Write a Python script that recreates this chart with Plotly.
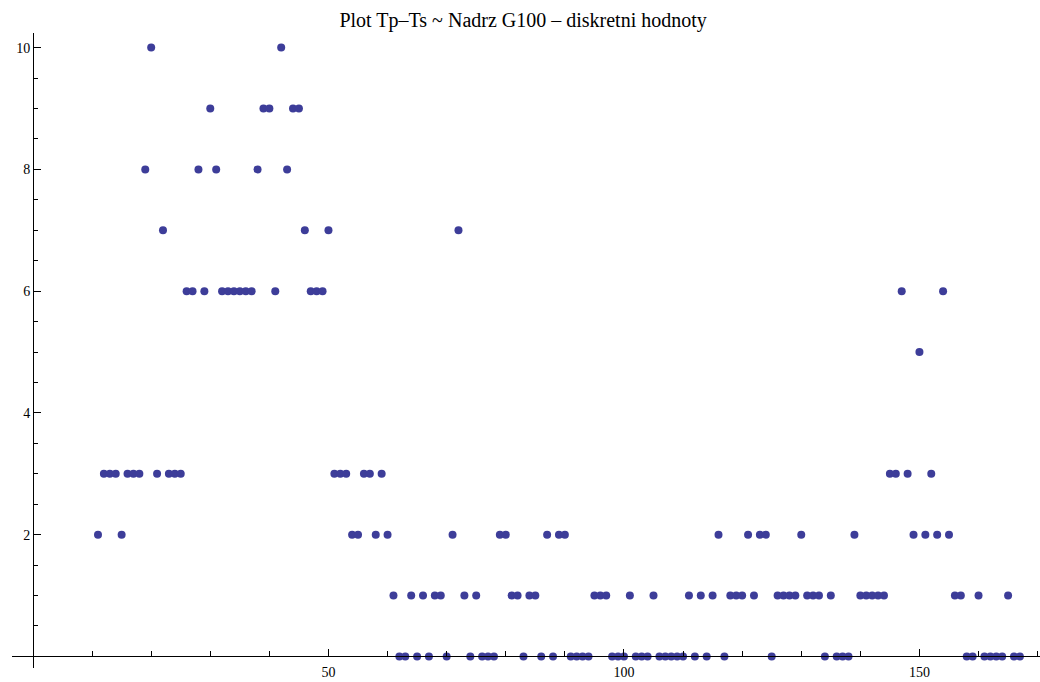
import plotly.graph_objects as go

# ---- data ----
x_index = list(range(11, 168))
tp_ts = [
    2, 3, 3, 3, 2, 3, 3, 3, 8, 10,          # 11-20
    3, 7, 3, 3, 3, 6, 6, 8, 6, 9,           # 21-30
    8, 6, 6, 6, 6, 6, 6, 8, 9, 9,           # 31-40
    6, 10, 8, 9, 9, 7, 6, 6, 6, 7,          # 41-50
    3, 3, 3, 2, 2, 3, 3, 2, 3, 2,           # 51-60
    1, 0, 0, 1, 0, 1, 0, 1, 1, 0,           # 61-70
    2, 7, 1, 0, 1, 0, 0, 0, 2, 2,           # 71-80
    1, 1, 0, 1, 1, 0, 2, 0, 2, 2,           # 81-90
    0, 0, 0, 0, 1, 1, 1, 0, 0, 0,           # 91-100
    1, 0, 0, 0, 1, 0, 0, 0, 0, 0,           # 101-110
    1, 0, 1, 0, 1, 2, 0, 1, 1, 1,           # 111-120
    2, 1, 2, 2, 0, 1, 1, 1, 1, 2,           # 121-130
    1, 1, 1, 0, 1, 0, 0, 0, 2, 1,           # 131-140
    1, 1, 1, 1, 3, 3, 6, 3, 2, 5,           # 141-150
    2, 3, 2, 6, 2, 1, 1, 0, 0, 1,           # 151-160
    0, 0, 0, 0, 1, 0, 0,                    # 161-167
]

x_tickvals = [50, 100, 150]
x_minor_tickvals = [10, 20, 30, 40, 60, 70, 80, 90, 110, 120, 130, 140, 160, 170]
y_tickvals = [2, 4, 6, 8, 10]

title_text = "Plot Tp–Ts ~ Nadrz G100 – diskretni hodnoty"

# ---- ranges ----
x_range = [-3.55, 170.4]
y_range = [-0.19, 10.24]

fig = go.Figure()
fig.add_trace(go.Scatter(
    x=x_index, y=tp_ts, mode="markers",
    marker=dict(size=8, color="#3d3d99"),
    cliponaxis=False, showlegend=False,
))

xpos = (0 - y_range[0]) / (y_range[1] - y_range[0])
ypos = (0 - x_range[0]) / (x_range[1] - x_range[0])

fig.update_layout(
    width=1040, height=682,
    margin=dict(l=12, r=0, t=33, b=14),
    paper_bgcolor="white", plot_bgcolor="white",
    title=dict(text=title_text, x=0.503, xref="container", xanchor="center",
               y=1 - 20 / 682, yref="container", yanchor="middle",
               font=dict(family="Liberation Serif", size=20, color="black")),
    font=dict(family="Liberation Serif", size=14, color="black"),
    xaxis=dict(
        range=x_range, anchor="free", position=xpos,
        showline=True, linecolor="black", linewidth=1,
        showgrid=False, zeroline=False,
        tickmode="array", tickvals=x_tickvals,
        ticks="inside", ticklen=7, tickcolor="black", tickwidth=1,
        ticklabelstandoff=3,
        minor=dict(tickmode="array", tickvals=x_minor_tickvals,
                   ticks="inside", ticklen=5, tickcolor="black", tickwidth=1,
                   showgrid=False),
        tickfont=dict(family="Liberation Serif", size=14, color="black"),
    ),
    yaxis=dict(
        range=y_range, anchor="free", position=ypos,
        showline=True, linecolor="black", linewidth=1,
        showgrid=False, zeroline=False,
        tickmode="array", tickvals=y_tickvals,
        ticks="inside", ticklen=7, tickcolor="black", tickwidth=1,
        minor=dict(dtick=0.5, tick0=0, ticks="inside", ticklen=4,
                   tickcolor="black", tickwidth=1, showgrid=False),
        tickfont=dict(family="Liberation Serif", size=14, color="black"),
    ),
)

fig.write_html("out.html")
